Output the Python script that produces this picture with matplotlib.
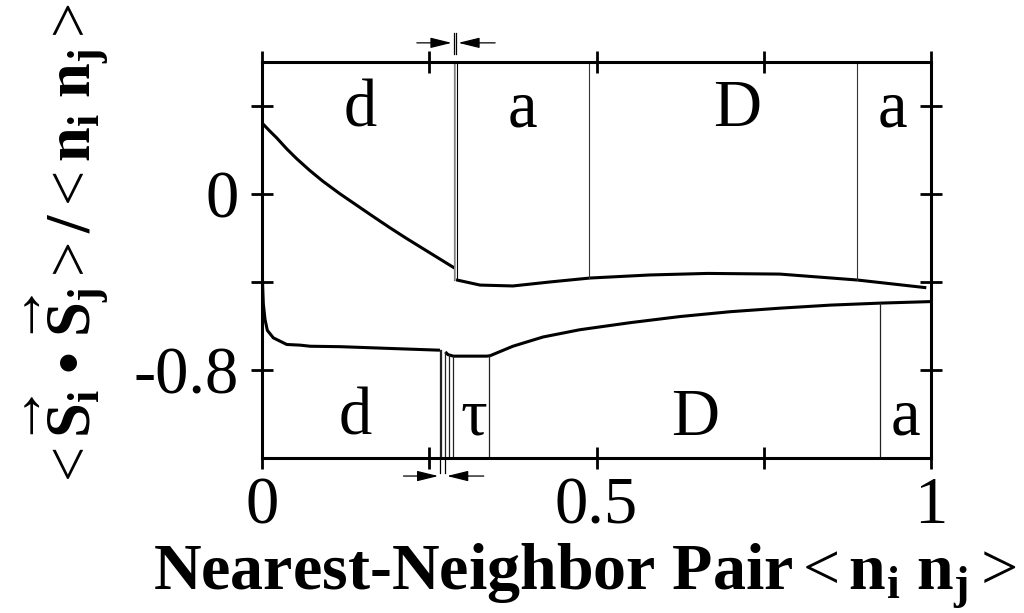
import numpy as np
import matplotlib
matplotlib.use("Agg")
import matplotlib.pyplot as plt

plt.rcParams["font.family"] = ["Liberation Serif", "DejaVu Serif"]
plt.rcParams["mathtext.fontset"] = "custom"
plt.rcParams["mathtext.rm"] = "Liberation Serif"
plt.rcParams["mathtext.it"] = "Liberation Serif:italic"
plt.rcParams["mathtext.bf"] = "Liberation Serif:bold"

# Upper branch: d phase, then the a / D / a phases after the jump
upper_left_x = [0.0, 0.011, 0.022, 0.037, 0.052, 0.071, 0.091, 0.116, 0.141, 0.166, 0.191, 0.215, 0.240, 0.264, 0.288]
upper_left_y = [0.323, 0.288, 0.255, 0.205, 0.160, 0.108, 0.058, 0.002, -0.050, -0.102, -0.153, -0.200, -0.247, -0.292, -0.337]
upper_right_x = [0.290, 0.326, 0.375, 0.430, 0.490, 0.580, 0.666, 0.774, 0.890, 0.993]
upper_right_y = [-0.390, -0.414, -0.418, -0.400, -0.382, -0.368, -0.361, -0.364, -0.391, -0.426]

# Lower branch: d phase, then tau / D / a phases
lower_left_x = [0.0, 0.001, 0.002, 0.0045, 0.008, 0.017, 0.027, 0.037, 0.057, 0.072, 0.117, 0.191, 0.266]
lower_left_y = [-0.30, -0.42, -0.50, -0.57, -0.620, -0.654, -0.669, -0.684, -0.687, -0.692, -0.694, -0.702, -0.710]
lower_right_x = [0.274, 0.278, 0.286, 0.336, 0.341, 0.375, 0.420, 0.475, 0.550, 0.625, 0.700, 0.774, 0.850, 0.924, 1.0]
lower_right_y = [-0.718, -0.730, -0.737, -0.737, -0.735, -0.692, -0.650, -0.617, -0.585, -0.557, -0.535, -0.519, -0.505, -0.496, -0.489]

# Phase boundaries
upper_bounds = [0.489, 0.890]
upper_jump = 0.289
lower_bounds = [0.2655, 0.268, 0.274, 0.280, 0.286, 0.340, 0.924]

upper_labels = ["d", "a", "D", "a"]
upper_label_x = [0.147, 0.390, 0.710, 0.943]
lower_labels = ["d", "\u03c4", "D", "a"]
lower_label_x = [0.140, 0.316, 0.647, 0.962]

x_ticks = [0, 0.25, 0.5, 0.75, 1.0]
x_ticklabels = ["0", "", "0.5", "", "1"]
y_ticks = [0.4, 0.0, -0.4, -0.8]
y_ticklabels = ["", "0", "", "-0.8"]

fig = plt.figure(figsize=(10.24, 6.13), dpi=100)
ax = fig.add_axes([262 / 1024, 1 - 458 / 613, (931 - 262) / 1024, (458 - 62) / 613])
ax.set_xlim(0, 1)
ax.set_ylim(-1.2, 0.6)

lw_curve = 2.2
ax.plot(upper_left_x, upper_left_y, color="black", lw=lw_curve, solid_capstyle="butt")
ax.plot(upper_right_x, upper_right_y, color="black", lw=lw_curve, solid_capstyle="butt")
ax.plot(lower_left_x, lower_left_y, color="black", lw=lw_curve, solid_capstyle="butt")
ax.plot(lower_right_x, lower_right_y, color="black", lw=lw_curve, solid_capstyle="butt")

# boundaries in the upper panel run from the top frame down to the upper branch
for xb in upper_bounds:
    yb = np.interp(xb, upper_right_x, upper_right_y)
    ax.plot([xb, xb], [0.6, yb], color="#333333", lw=0.8)
# the discontinuity is marked by a double line
for dx, c, w in [(-0.002, "black", 0.8), (0.0, "#999999", 1.2), (0.002, "black", 0.8)]:
    ax.plot([upper_jump + dx] * 2, [0.6, -0.39], color=c, lw=w)

# boundaries in the lower panel run from the lower branch down to the bottom frame
for xb in lower_bounds:
    if xb < 0.27:
        yb = -0.71
    else:
        yb = np.interp(xb, lower_right_x, lower_right_y)
    ax.plot([xb, xb], [yb, -1.2], color="#222222", lw=0.9)

for s, xl in zip(upper_labels, upper_label_x):
    ax.text(xl, 0.308, s, fontsize=48, ha="center", va="baseline")
for s, xl in zip(lower_labels, lower_label_x):
    ax.text(xl, -1.095, s, fontsize=48, ha="center", va="baseline")

# narrow-window markers outside the frame
arrow_style = "-|>,head_length=1.3,head_width=0.32"

def window_marker(x0, x1, y0, y1, ya):
    for xm in (x0, x1):
        ax.plot([xm, xm], [y0, y1], color="black", lw=0.9, clip_on=False)
    ax.annotate("", xy=(x0 - 0.003, ya), xytext=(x0 - 0.055, ya),
                arrowprops=dict(arrowstyle=arrow_style, color="black", lw=0.9,
                                shrinkA=0, shrinkB=0),
                annotation_clip=False)
    ax.annotate("", xy=(x1 + 0.003, ya), xytext=(x1 + 0.058, ya),
                arrowprops=dict(arrowstyle=arrow_style, color="black", lw=0.9,
                                shrinkA=0, shrinkB=0),
                annotation_clip=False)

window_marker(0.2865, 0.2905, 0.635, 0.73, 0.687)
window_marker(0.2665, 0.2735, -1.2, -1.27, -1.282)

for sp in ax.spines.values():
    sp.set_linewidth(2.2)

ax.set_xticks(x_ticks)
ax.set_xticklabels(x_ticklabels)
ax.set_yticks(y_ticks)
ax.set_yticklabels(y_ticklabels)
ax.tick_params(axis="both", direction="inout", length=16, width=2.0, labelsize=48,
               top=True, right=True)
ax.tick_params(axis="x", pad=5)
ax.tick_params(axis="y", pad=9)

fig.text(585 / 1024, 1 - 590 / 613,
         r"Nearest-Neighbor Pair$<\mathbf{n_i\ n_j}>$",
         fontsize=47.5, fontweight="bold", ha="center", va="baseline")

bullet = "\u2022"
ylabel = (r"$<\mathbf{\overrightarrow{S}_i\ " + bullet +
          r"\ \overrightarrow{S}_j}>\mathbf{/}<\mathbf{n_i\ n_j}>$")
fig.text(67 / 1024, 1 - 247 / 613, ylabel,
         fontsize=45, rotation=90, ha="center", va="center")

fig.savefig("out.png", dpi=100)
